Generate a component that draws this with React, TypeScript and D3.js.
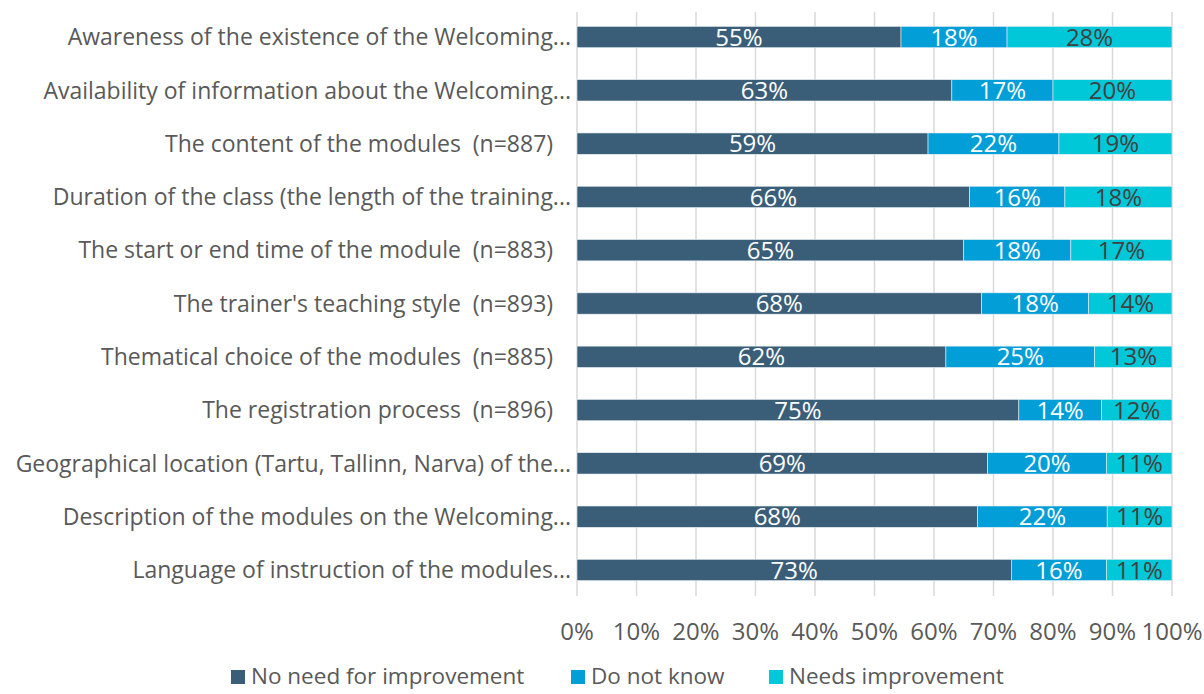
import React from "react";
import * as d3 from "d3";

const categories = [
  "Awareness of the existence of the Welcoming...",
  "Availability of information about the Welcoming...",
  "The content of the modules  (n=887)   ",
  "Duration of the class (the length of the training...",
  "The start or end time of the module  (n=883)   ",
  "The trainer's teaching style  (n=893)   ",
  "Thematical choice of the modules  (n=885)   ",
  "The registration process  (n=896)   ",
  "Geographical location (Tartu, Tallinn, Narva) of the...",
  "Description of the modules on the Welcoming...",
  "Language of instruction of the modules...",
];
const noNeed = [55, 63, 59, 66, 65, 68, 62, 75, 69, 68, 73];
const dontKnow = [18, 17, 22, 16, 18, 18, 25, 14, 20, 22, 16];
const needs = [28, 20, 19, 18, 17, 14, 13, 12, 11, 11, 11];
const seriesNames = ["No need for improvement", "Do not know", "Needs improvement"];
const seriesColors = ["#3A5E78", "#019ED8", "#00C8D8"];
const labelColors = ["#FFFFFF", "#FFFFFF", "#404040"];
const xTicks = [0, 0.1, 0.2, 0.3, 0.4, 0.5, 0.6, 0.7, 0.8, 0.9, 1];

const W = 1204;
const H = 694;
const FONT = "'Open Sans', 'Noto Sans', sans-serif";

export default function App() {
  const rows = categories.map((c, i) => ({
    cat: c,
    s0: noNeed[i],
    s1: dontKnow[i],
    s2: needs[i],
  }));
  const keys = ["s0", "s1", "s2"];
  const stacked = d3.stack<any>().keys(keys).offset(d3.stackOffsetExpand)(rows);
  const x = d3.scaleLinear().domain([0, 1]).range([577, 1172]);
  const y = d3
    .scaleBand<string>()
    .domain(categories)
    .range([10.4, 596.6])
    .paddingInner(0.6)
    .paddingOuter(0.3);
  const bw = y.bandwidth();

  const legendItems = [
    { x: 231, tx: 251 },
    { x: 571, tx: 591 },
    { x: 769, tx: 789 },
  ];

  return (
    <svg
      width={W}
      height={H}
      style={{ position: "absolute", left: 0, top: 0, background: "#fff" }}
      fontFamily={FONT}
    >
      {xTicks.map((t) => (
        <line
          key={"g" + t}
          x1={x(t)}
          x2={x(t)}
          y1={12}
          y2={596}
          stroke="#D9D9D9"
          strokeWidth={1.5}
        />
      ))}
      {stacked.map((layer, si) =>
        layer.map((d, i) => (
          <rect
            key={si + "-" + i}
            x={x(d[0])}
            y={y(categories[i])}
            width={x(d[1]) - x(d[0])}
            height={bw}
            fill={seriesColors[si]}
            stroke="#E6EEF2"
            strokeWidth={0.6}
          />
        ))
      )}
      {stacked.map((layer, si) =>
        layer.map((d, i) => (
          <text
            key={"l" + si + "-" + i}
            x={(x(d[0]) + x(d[1])) / 2}
            y={(y(categories[i]) as number) + bw / 2}
            dy="0.36em"
            textAnchor="middle"
            fontSize={24}
            fill={labelColors[si]}
          >
            {[noNeed, dontKnow, needs][si][i]}%
          </text>
        ))
      )}
      {categories.map((c) => (
        <text
          key={"c" + c}
          x={571}
          y={(y(c) as number) + bw / 2}
          dy="0.36em"
          textAnchor="end"
          fontSize={23}
          fill="#595959"
          style={{ whiteSpace: "pre" }}
        >
          {c}
        </text>
      ))}
      {xTicks.map((t) => (
        <text
          key={"t" + t}
          x={x(t)}
          y={631}
          dy="0.36em"
          textAnchor="middle"
          fontSize={24}
          fill="#595959"
        >
          {d3.format(".0%")(t)}
        </text>
      ))}
      {seriesNames.map((n, i) => (
        <g key={"lg" + n}>
          <rect x={legendItems[i].x} y={670} width={14} height={14} fill={seriesColors[i]} />
          <text
            x={legendItems[i].tx}
            y={676}
            dy="0.36em"
            fontSize={22.5}
            fill="#595959"
          >
            {n}
          </text>
        </g>
      ))}
    </svg>
  );
}
